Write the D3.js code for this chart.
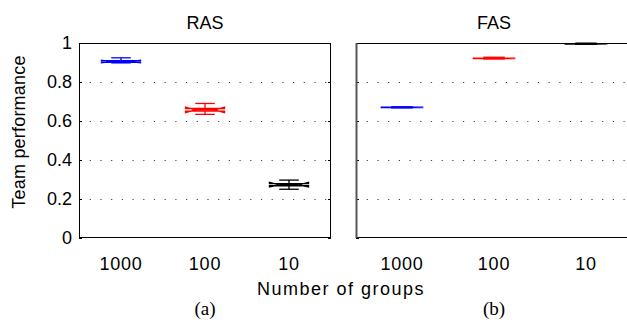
<!DOCTYPE html>
<html>
<head>
<meta charset="utf-8">
<script src="https://cdn.jsdelivr.net/npm/d3@7/dist/d3.min.js"></script>
<style>
    body { margin: 0; background: #fff; }
    svg text { font-family: "Liberation Sans", Arial, sans-serif; fill: #000; }
    .cap { font-family: "Liberation Serif", "Times New Roman", serif !important; }
    .grid { stroke: #444; stroke-width: 1; stroke-dasharray: 1.2,9.5; }
    .frame { fill: none; stroke: #000; stroke-width: 1; }
</style>
</head>
<body>
<div id="chart"></div>
<script>
    // box plot summaries
    var groups = ["1000", "100", "10"];
    var colors = ["#0000ff", "#ff0000", "#000000"];
    var yTicks = [0, 0.2, 0.4, 0.6, 0.8, 1];

    var rasMedian  = [0.905, 0.657, 0.273];
    var rasQ1      = [0.901, 0.651, 0.268];
    var rasQ3      = [0.909, 0.664, 0.279];
    var rasNotchLo = [0.899, 0.643, 0.262];
    var rasNotchHi = [0.911, 0.671, 0.285];
    var rasLow     = [0.898, 0.634, 0.250];
    var rasHigh    = [0.924, 0.690, 0.297];

    var fasMedian  = [0.670, 0.921, 0.996];
    var fasQ1      = [0.669, 0.920, 0.995];
    var fasQ3      = [0.671, 0.922, 0.997];
    var fasNotchLo = [0.669, 0.920, 0.995];
    var fasNotchHi = [0.671, 0.922, 0.997];
    var fasLow     = [0.668, 0.919, 0.994];
    var fasHigh    = [0.672, 0.927, 0.999];

    var W = 627, H = 322;
    var plotTop = 43, plotBottom = 238;

    var svg = d3.select("#chart").append("svg")
        .attr("width", W).attr("height", H);

    var yScale = d3.scaleLinear().domain([0, 1]).range([plotBottom, plotTop]);

    function rows(med, q1, q3, nlo, nhi, lo, hi) {
        return groups.map(function (g, i) {
            return {group: g, color: colors[i], med: med[i], q1: q1[i], q3: q3[i],
                nlo: nlo[i], nhi: nhi[i], lo: lo[i], hi: hi[i]};
        });
    }

    var panels = [
        {title: "RAS", label: "(a)", x0: 79, x1: 331, edge: "#000",
            data: rows(rasMedian, rasQ1, rasQ3, rasNotchLo, rasNotchHi, rasLow, rasHigh)},
        {title: "FAS", label: "(b)", x0: 356, x1: 632, edge: "#555",
            data: rows(fasMedian, fasQ1, fasQ3, fasNotchLo, fasNotchHi, fasLow, fasHigh)}
    ];

    panels.forEach(function (p) {
        var xScale = d3.scaleBand().domain(groups).range([p.x0, p.x1]);
        var bw = xScale.bandwidth() * 0.465;
        var g = svg.append("g");

        // dotted grid
        g.selectAll("line.grid").data(yTicks.filter(function (t) { return t > 0 && t < 1; }))
            .enter().append("line")
            .attr("class", "grid")
            .attr("x1", p.x0).attr("x2", p.x1)
            .attr("y1", function (d) { return yScale(d) + 0.5; })
            .attr("y2", function (d) { return yScale(d) + 0.5; });

        // ticks inside both sides
        g.selectAll("line.tl").data(yTicks).enter().append("line")
            .attr("x1", p.x0).attr("x2", p.x0 + 3)
            .attr("y1", function (d) { return yScale(d) + 0.5; })
            .attr("y2", function (d) { return yScale(d) + 0.5; })
            .attr("stroke", "#000");
        g.selectAll("line.tr").data(yTicks).enter().append("line")
            .attr("x1", p.x1).attr("x2", p.x1 - 3)
            .attr("y1", function (d) { return yScale(d) + 0.5; })
            .attr("y2", function (d) { return yScale(d) + 0.5; })
            .attr("stroke", "#000");

        // boxes
        var boxes = g.selectAll("g.box").data(p.data).enter().append("g")
            .attr("stroke", function (d) { return d.color; })
            .attr("stroke-width", 1.3)
            .attr("fill", "none");

        boxes.each(function (d) {
            var b = d3.select(this);
            var cx = xScale(d.group) + xScale.bandwidth() / 2;
            var l = cx - bw / 2, r = cx + bw / 2, ins = bw / 4;
            b.append("line").attr("x1", cx).attr("x2", cx)
                .attr("y1", yScale(d.q3)).attr("y2", yScale(d.hi));
            b.append("line").attr("x1", cx).attr("x2", cx)
                .attr("y1", yScale(d.q1)).attr("y2", yScale(d.lo));
            b.append("line").attr("x1", cx - bw / 4).attr("x2", cx + bw / 4)
                .attr("y1", yScale(d.hi)).attr("y2", yScale(d.hi));
            b.append("line").attr("x1", cx - bw / 4).attr("x2", cx + bw / 4)
                .attr("y1", yScale(d.lo)).attr("y2", yScale(d.lo));
            var pts = [
                [l, yScale(d.q1)], [l, yScale(d.nlo)], [l + ins, yScale(d.med)],
                [l, yScale(d.nhi)], [l, yScale(d.q3)], [r, yScale(d.q3)],
                [r, yScale(d.nhi)], [r - ins, yScale(d.med)], [r, yScale(d.nlo)],
                [r, yScale(d.q1)]
            ];
            b.append("path").attr("d", d3.line()(pts) + "Z");
            b.append("line").attr("x1", l + ins).attr("x2", r - ins)
                .attr("y1", yScale(d.med)).attr("y2", yScale(d.med))
                .attr("stroke-width", 1.8);
        });

        // frame
        g.append("rect").attr("class", "frame")
            .attr("x", p.x0 + 0.5).attr("y", plotTop + 0.5)
            .attr("width", p.x1 - p.x0 - 1).attr("height", plotBottom - plotTop - 1);
        if (p.edge !== "#000") {
            g.append("line").attr("x1", p.x0 + 0.5).attr("x2", p.x0 + 0.5)
                .attr("y1", plotTop).attr("y2", plotBottom)
                .attr("stroke", p.edge).attr("stroke-width", 2);
        }

        // x tick labels
        g.selectAll("text.xl").data(groups).enter().append("text")
            .attr("x", function (d) { return xScale(d) + xScale.bandwidth() / 2; })
            .attr("y", 270)
            .attr("text-anchor", "middle")
            .attr("font-size", 18)
            .attr("letter-spacing", 0.8)
            .text(function (d) { return d; });

        var mid = (p.x0 + p.x1) / 2;
        g.append("text").attr("x", mid).attr("y", 29)
            .attr("text-anchor", "middle").attr("font-size", 18).text(p.title);
        g.append("text").attr("class", "cap").attr("x", mid).attr("y", 315)
            .attr("text-anchor", "middle").attr("font-size", 19).text(p.label);
    });

    // y axis labels
    svg.selectAll("text.yl").data(yTicks).enter().append("text")
        .attr("x", 72)
        .attr("y", function (d) { return yScale(d); })
        .attr("dy", "0.35em")
        .attr("text-anchor", "end")
        .attr("font-size", 18)
        .text(function (d) { return d3.format("~g")(d); });

    svg.append("text")
        .attr("transform", "translate(25,132) rotate(-90)")
        .attr("text-anchor", "middle")
        .attr("font-size", 18)
        .attr("letter-spacing", 0.2)
        .text("Team performance");

    svg.append("text")
        .attr("x", 341).attr("y", 295)
        .attr("text-anchor", "middle")
        .attr("font-size", 18)
        .attr("letter-spacing", 1.5)
        .text("Number of groups");
</script>
</body>
</html>
